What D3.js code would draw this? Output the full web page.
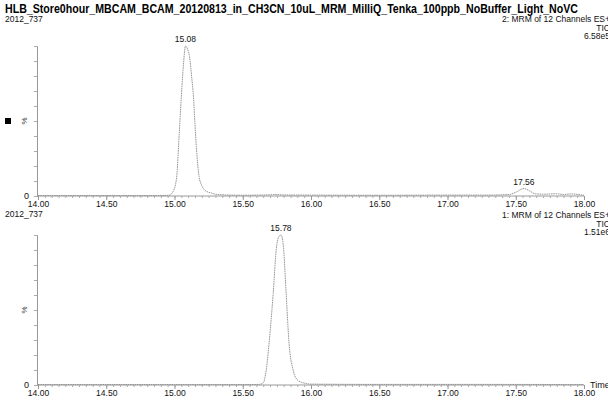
<!DOCTYPE html>
<html><head><meta charset="utf-8">
<script src="https://cdnjs.cloudflare.com/ajax/libs/d3/7.8.5/d3.min.js"></script>
<style>html,body{margin:0;padding:0;background:#fff;}svg{display:block;font-family:"Liberation Sans",Arial,sans-serif;}</style>
</head><body><svg id="c" width="608" height="404"></svg>
<script>
const title = "HLB_Store0hour_MBCAM_BCAM_20120813_in_CH3CN_10uL_MRM_MilliQ_Tenka_100ppb_NoBuffer_Light_NoVC";
const sampleName = "2012_737";
const xTickLabels = ["14.00","14.50","15.00","15.50","16.00","16.50","17.00","17.50","18.00"];
const panelInfo = [
  ["2: MRM of 12 Channels ES+", "TIC", "6.58e5"],
  ["1: MRM of 12 Channels ES+", "TIC", "1.51e6"]
];
const peakLabels = [["15.08", 15.08, 100, "17.56", 17.56, 5], ["15.78", 15.78, 100]];
const topTimes  = [14.00,14.30,14.60,14.90,14.96,14.99,15.015,15.036,15.066,15.08,15.095,15.11,15.125,15.139,15.15,15.16,15.18,15.20,15.22,15.25,15.27,15.30,15.35,15.50,15.70,15.75,15.80,16.00,16.50,17.00,17.30,17.45,17.50,17.56,17.60,17.64,17.70,17.80,17.85,17.90,18.00];
const topValues = [0.3,0.3,0.3,0.3,0.5,3,12,44,88,100,98,93,80,66,48,33,13,7,4,2.5,2,1.2,0.8,0.5,0.8,1,0.7,0.6,0.5,0.6,0.6,1,2.5,5,3.5,1.5,1.2,1.5,1,1.4,0.5];
const botTimes  = [14.00,15.00,15.50,15.62,15.65,15.672,15.693,15.723,15.745,15.765,15.78,15.796,15.818,15.839,15.869,15.905,15.964,16.00,16.50,17.00,18.00];
const botValues = [0.3,0.3,0.3,0.4,1.5,10,28,61,90,99,100,94,61,28,10,3,1,0.6,0.4,0.4,0.3];

const svg = d3.select("#c");
const x = d3.scaleLinear().domain([14,18]).range([38,584]);
const panels = [
  {base:196, top:46, times:topTimes, vals:topValues, nameY:22, infoY:[22,30.5,39], square:true},
  {base:385, top:235, times:botTimes, vals:botValues, nameY:217, infoY:[218,226.5,235], square:false}
];

svg.append("text").attr("x",5).attr("y",12.5).attr("font-size","12px").attr("font-weight","bold")
  .attr("fill","#000").attr("textLength",573).attr("lengthAdjust","spacingAndGlyphs").text(title);

panels.forEach((p,i)=>{
  const y = d3.scaleLinear().domain([0,100]).range([p.base,p.top]);
  const g = svg.append("g");
  g.append("text").attr("x",5).attr("y",p.nameY).attr("font-size","8.5px").attr("fill","#111").text(sampleName);
  panelInfo[i].forEach((t,k)=>{
    g.append("text").attr("x",610).attr("y",p.infoY[k]).attr("text-anchor","end")
      .attr("font-size","8.5px").attr("fill","#111").text(t);
  });
  const ya = d3.axisLeft(y).tickValues(d3.range(0,101,10)).tickSize(3).tickFormat("");
  const yg = g.append("g").attr("transform",`translate(${x(14)-1},0)`).call(ya);
  yg.select(".domain").attr("stroke","#999");
  yg.selectAll(".tick line").attr("stroke","#aaa");
  g.append("text").attr("x",29).attr("y",p.base+3).attr("text-anchor","end").attr("font-size","9px").attr("fill","#111").text("0");
  g.append("text").attr("transform",`translate(27,${(p.base+p.top)/2}) rotate(-90)`).attr("text-anchor","middle")
    .attr("font-size","8px").attr("fill","#333").text("%");
  if(p.square) g.append("rect").attr("x",5).attr("y",(p.base+p.top)/2-3).attr("width",6).attr("height",6).attr("fill","#000");
  const minor = d3.range(14,18.0001,0.05);
  const xaMinor = d3.axisBottom(x).tickValues(minor).tickSize(2).tickFormat("");
  const xg = g.append("g").attr("transform",`translate(0,${p.base})`).call(xaMinor);
  xg.select(".domain").attr("stroke","#999").attr("d",`M${x(14)-1},0H${x(18)}`);
  xg.selectAll(".tick line").attr("stroke","#aaa");
  const xaMajor = d3.axisBottom(x).tickValues(xTickLabels.map(Number)).tickSize(4)
    .tickFormat((d,j)=>xTickLabels[j]);
  const xg2 = g.append("g").attr("transform",`translate(0,${p.base})`).call(xaMajor);
  xg2.select(".domain").remove();
  xg2.selectAll(".tick line").attr("stroke","#999");
  xg2.selectAll(".tick text").attr("font-size","8.5px").attr("fill","#111").attr("font-family","Liberation Sans, Arial, sans-serif").attr("dy","0.5em");
  const data = p.times.map((t,k)=>[t,p.vals[k]]);
  const line = d3.line().x(d=>x(d[0])).y(d=>y(d[1])).curve(d3.curveMonotoneX);
  g.append("path").datum(data).attr("d",line).attr("fill","none").attr("stroke","#8c8c8c")
    .attr("stroke-width",0.9).attr("stroke-dasharray","1.6,0.7");
  const pl = peakLabels[i];
  for(let k=0;k<pl.length;k+=3){
    g.append("text").attr("x",x(pl[k+1])).attr("y",y(pl[k+2])-4).attr("text-anchor","middle")
      .attr("font-size","8.5px").attr("fill","#111").text(pl[k]);
  }
  if(i===1){
    g.append("text").attr("x",590).attr("y",p.base+3).attr("font-size","9px").attr("fill","#111").text("Time");
  }
});
</script></body></html>
